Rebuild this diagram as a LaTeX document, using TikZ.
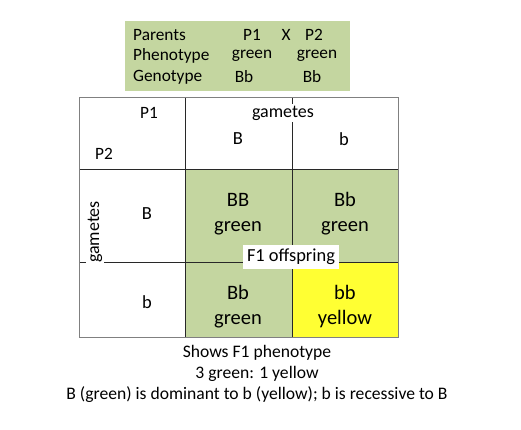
\documentclass[tikz,border=0pt]{standalone}
\usepackage{fontspec}
\setmainfont{Carlito}
\definecolor{olive}{RGB}{196,214,160}
\definecolor{yel}{RGB}{255,255,51}
\definecolor{gridgray}{RGB}{128,128,128}
\definecolor{griddark}{RGB}{40,40,40}
\begin{document}
\begin{tikzpicture}[x=1pt,y=-1pt,
  txt/.style={font=\fontsize{17.3}{21}\selectfont, inner sep=1pt, align=center},
  hdtxt/.style={font=\fontsize{18.5}{21}\selectfont, inner sep=1pt, align=center},
  celltxt/.style={font=\fontsize{20.5}{25}\selectfont, inner sep=1pt, align=center},
  captxt/.style={font=\fontsize{17.6}{21}\selectfont, inner sep=1pt, align=center},
  outer/.style={draw=gridgray, line width=0.8pt},
  inner/.style={draw=griddark, line width=0.8pt}]
\useasboundingbox (0,0) rectangle (521,429);
% top info box
\fill[olive] (125,21) rectangle (350,91);
\node[txt, anchor=west] (lp) at (132,35) {Parents};
\node[txt, anchor=west] (lph) at (132,56) {Phenotype};
\node[txt, anchor=west] (lg) at (132,77) {Genotype};
\node[txt] (p1) at (252,35) {P1};
\node[txt] (x) at (286,35) {X};
\node[txt] (p2) at (314,35) {P2};
\node[txt] (ph1) at (252,56) {green};
\node[txt] (ph2) at (317,56) {green};
\node[txt] (g1) at (244,77) {Bb};
\node[txt] (g2) at (312,77) {Bb};
% cell fills
\fill[olive] (185,169) rectangle (398,262);
\fill[olive] (185,262) rectangle (292,337);
\fill[yel] (292,262) rectangle (398,337);
% grid lines
\draw[inner] (79,169) -- (398,169);
\draw[inner] (79,262) -- (398,262);
\draw[inner] (185,97) -- (185,337);
\draw[inner] (292,97) -- (292,337);
\draw[outer] (79,97) rectangle (398,337);
% header texts
\node[txt, font=\fontsize{18}{21}\selectfont, fill=white, inner sep=2pt] (gh) at (283,113) {gametes};
\node[txt] (hp1) at (149,113) {P1};
\node[txt] (hp2) at (104,154) {P2};
\node[hdtxt] (hB) at (238,139) {B};
\node[hdtxt] (hb) at (344,139) {b};
\node[txt, font=\fontsize{18}{21}\selectfont, fill=white, inner sep=2pt, rotate=90] (gl) at (95,232) {gametes};
\node[hdtxt] (lB) at (147,214) {B};
\node[hdtxt] (lb) at (147,302) {b};
% cells
\node[celltxt] (c11) at (238,214) {BB\\green};
\node[celltxt] (c12) at (345,214) {Bb\\green};
\node[celltxt] (c21) at (238,307) {Bb\\green};
\node[celltxt] (c22) at (345,307) {bb\\yellow};
\node[txt, font=\fontsize{18.4}{21}\selectfont, fill=white, inner sep=4pt] (f1) at (291,257) {F1 offspring};
% caption
\node[captxt] (capt) at (257,374) {Shows F1 phenotype\\3 green: 1 yellow\\B (green) is dominant to b (yellow); b is recessive to B};
\end{tikzpicture}
\end{document}
